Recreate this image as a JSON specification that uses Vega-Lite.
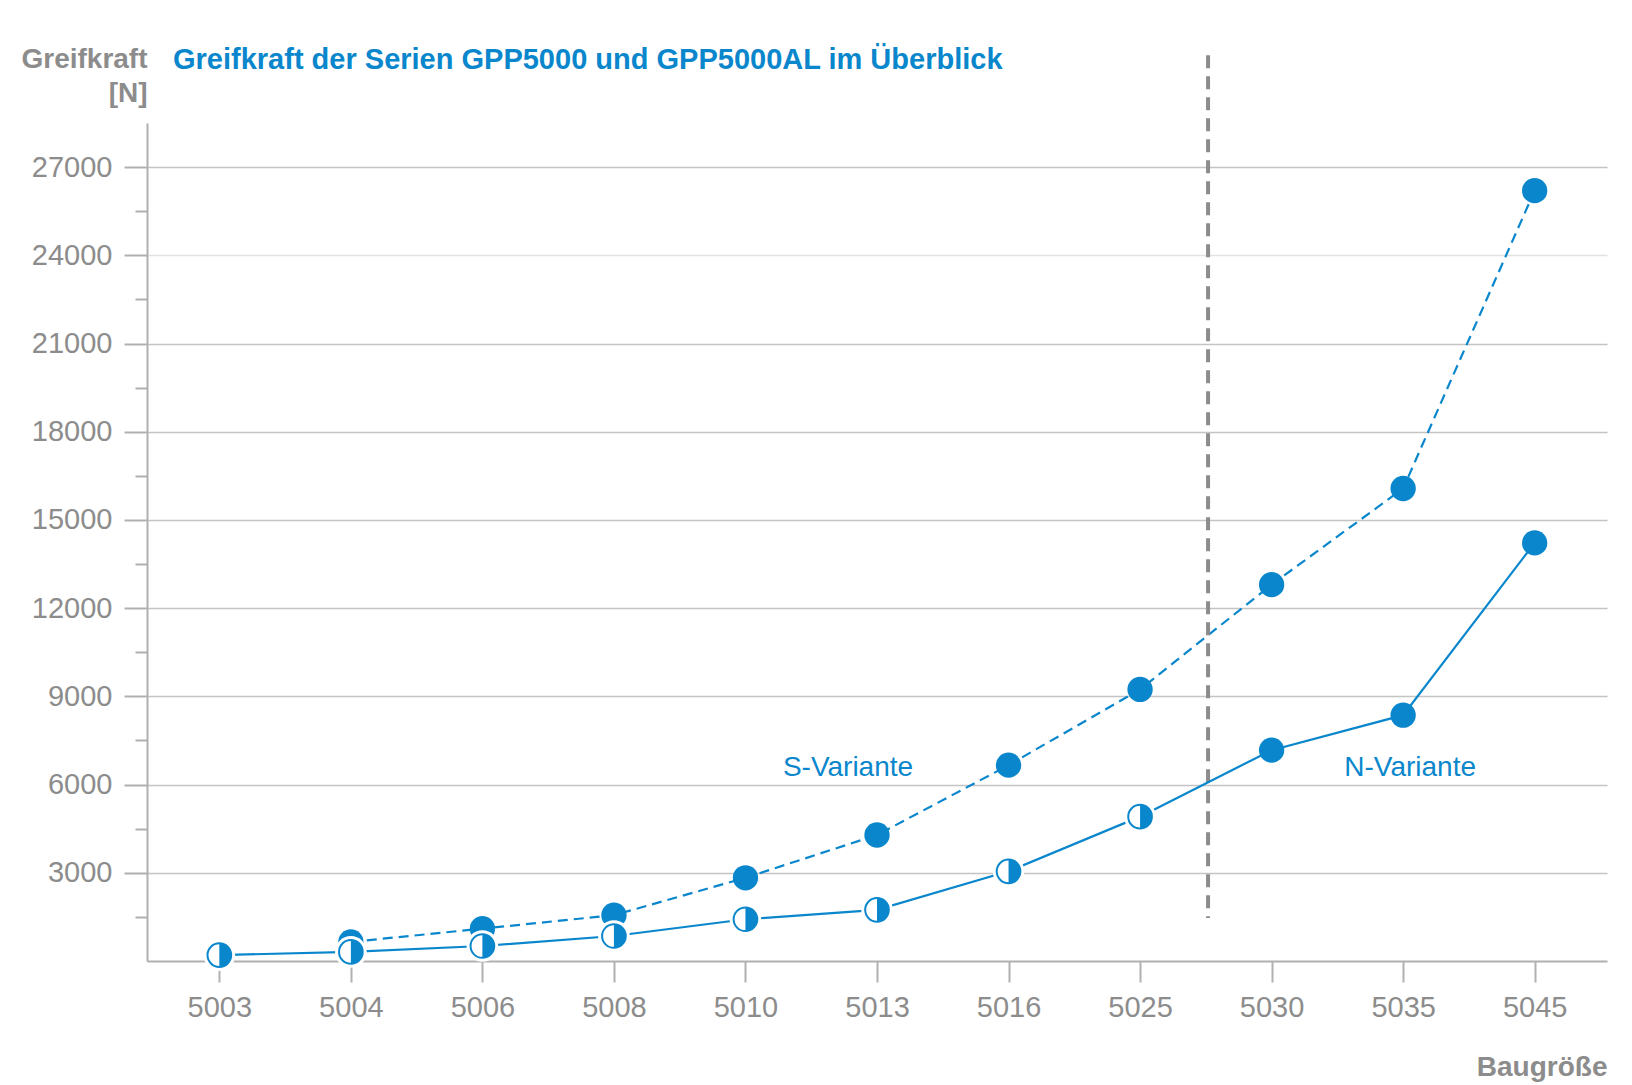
{
  "$schema": "https://vega.github.io/schema/vega-lite/v6.json",
  "width": 1460,
  "height": 838,
  "autosize": {"type": "none"},
  "padding": {"left": 147, "top": 123, "right": 25, "bottom": 124},
  "background": "white",
  "config": {
    "view": {"stroke": null},
    "font": "Liberation Sans"
  },
  "title": {
    "text": "Greifkraft der Serien GPP5000 und GPP5000AL im Überblick",
    "anchor": "start",
    "frame": "group",
    "dx": 26,
    "offset": -53,
    "baseline": "alphabetic",
    "font": "Liberation Sans",
    "fontSize": 29,
    "fontWeight": "bold",
    "color": "#0a87cc"
  },
  "data": {
    "values": [
      {"Baugröße": "5003", "Variante": "N-Variante", "Greifkraft": 200, "Symbol": "halb"},
      {"Baugröße": "5004", "Variante": "N-Variante", "Greifkraft": 310, "Symbol": "halb"},
      {"Baugröße": "5006", "Variante": "N-Variante", "Greifkraft": 510, "Symbol": "halb"},
      {"Baugröße": "5008", "Variante": "N-Variante", "Greifkraft": 850, "Symbol": "halb"},
      {"Baugröße": "5010", "Variante": "N-Variante", "Greifkraft": 1420, "Symbol": "halb"},
      {"Baugröße": "5013", "Variante": "N-Variante", "Greifkraft": 1740, "Symbol": "halb"},
      {"Baugröße": "5016", "Variante": "N-Variante", "Greifkraft": 3050, "Symbol": "halb"},
      {"Baugröße": "5025", "Variante": "N-Variante", "Greifkraft": 4910, "Symbol": "halb"},
      {"Baugröße": "5030", "Variante": "N-Variante", "Greifkraft": 7170, "Symbol": "voll"},
      {"Baugröße": "5035", "Variante": "N-Variante", "Greifkraft": 8360, "Symbol": "voll"},
      {"Baugröße": "5045", "Variante": "N-Variante", "Greifkraft": 14220, "Symbol": "voll"},
      {"Baugröße": "5004", "Variante": "S-Variante", "Greifkraft": 650, "Symbol": "voll"},
      {"Baugröße": "5006", "Variante": "S-Variante", "Greifkraft": 1100, "Symbol": "voll"},
      {"Baugröße": "5008", "Variante": "S-Variante", "Greifkraft": 1560, "Symbol": "voll"},
      {"Baugröße": "5010", "Variante": "S-Variante", "Greifkraft": 2830, "Symbol": "voll"},
      {"Baugröße": "5013", "Variante": "S-Variante", "Greifkraft": 4285, "Symbol": "voll"},
      {"Baugröße": "5016", "Variante": "S-Variante", "Greifkraft": 6660, "Symbol": "voll"},
      {"Baugröße": "5025", "Variante": "S-Variante", "Greifkraft": 9235, "Symbol": "voll"},
      {"Baugröße": "5030", "Variante": "S-Variante", "Greifkraft": 12800, "Symbol": "voll"},
      {"Baugröße": "5035", "Variante": "S-Variante", "Greifkraft": 16070, "Symbol": "voll"},
      {"Baugröße": "5045", "Variante": "S-Variante", "Greifkraft": 26200, "Symbol": "voll"}
    ]
  },
  "layer": [
    {
      "transform": [{"filter": "datum.Variante === 'S-Variante'"}],
      "mark": {"type": "line", "color": "#0a87cc", "strokeWidth": 2.2, "strokeDash": [10, 6]},
      "encoding": {
        "x": {
          "field": "Baugröße",
          "type": "ordinal",
          "scale": {
            "type": "point",
            "padding": 0.55,
            "domain": ["5003", "5004", "5006", "5008", "5010", "5013", "5016", "5025", "5030", "5035", "5045"]
          },
          "axis": {
            "title": "Baugröße",
            "titleFont": "Liberation Sans",
            "titleFontSize": 28,
            "titleFontWeight": "bold",
            "titleColor": "#8c8c8c",
            "titleAlign": "right",
            "titleAnchor": "end",
            "titleX": 1460,
            "titleY": 114,
            "titleBaseline": "alphabetic",
            "labelAngle": 0,
            "labelFont": "Liberation Sans",
            "labelFontSize": 29,
            "labelColor": "#8c8c8c",
            "labelPadding": 11,
            "tickSize": 21,
            "tickWidth": 2,
            "tickColor": "#b0b0b0",
            "domainColor": "#b0b0b0",
            "domainWidth": 2,
            "grid": false
          }
        },
        "y": {
          "field": "Greifkraft",
          "type": "quantitative",
          "scale": {"domain": [0, 28500], "nice": false, "zero": true},
          "axis": {
            "title": ["Greifkraft", "[N]"],
            "titleFont": "Liberation Sans",
            "titleFontSize": 28,
            "titleFontWeight": "bold",
            "titleColor": "#8c8c8c",
            "titleAngle": 0,
            "titleAlign": "right",
            "titleX": 0,
            "titleY": -56,
            "titleBaseline": "alphabetic",
            "titleLineHeight": 34,
            "values": [1500, 3000, 4500, 6000, 7500, 9000, 10500, 12000, 13500, 15000, 16500, 18000, 19500, 21000, 22500, 24000, 25500, 27000],
            "labelExpr": "datum.value % 3000 === 0 ? datum.value : ''",
            "format": "d",
            "labelFont": "Liberation Sans",
            "labelFontSize": 29,
            "labelColor": "#8c8c8c",
            "labelPadding": 12,
            "tickSize": {"condition": {"test": "datum.value % 3000 === 0", "value": 23}, "value": 12},
            "tickWidth": 2,
            "tickColor": "#b0b0b0",
            "domainColor": "#b0b0b0",
            "domainWidth": 2,
            "grid": true,
            "gridColor": {"condition": {"test": "datum.value === 24000", "value": "#e2e2e2"}, "value": "#c4c4c4"},
            "gridWidth": 1.5,
            "gridOpacity": {"condition": {"test": "datum.value % 3000 === 0", "value": 1}, "value": 0}
          }
        }
      }
    },
    {
      "data": {"values": [{"Grenze": "5025"}]},
      "mark": {"type": "rule", "color": "#8c8c8c", "strokeWidth": 4, "strokeDash": [13, 8], "xOffset": 68},
      "encoding": {
        "x": {"field": "Grenze", "type": "ordinal"},
        "y": {"datum": 30800},
        "y2": {"datum": 1460}
      }
    },
    {
      "transform": [{"filter": "datum.Variante === 'S-Variante'"}],
      "mark": {"type": "point", "shape": "circle", "filled": true, "color": "#0a87cc", "size": 640, "opacity": 1},
      "encoding": {
        "x": {"field": "Baugröße", "type": "ordinal"},
        "y": {"field": "Greifkraft", "type": "quantitative"}
      }
    },
    {
      "transform": [{"filter": "datum.Variante === 'N-Variante'"}],
      "mark": {"type": "line", "color": "#0a87cc", "strokeWidth": 2.2},
      "encoding": {
        "x": {"field": "Baugröße", "type": "ordinal"},
        "y": {"field": "Greifkraft", "type": "quantitative"}
      }
    },
    {
      "transform": [{"filter": "datum.Variante === 'N-Variante' && datum.Symbol === 'halb'"}],
      "mark": {"type": "point", "shape": "circle", "filled": true, "fill": "white", "size": 1000, "opacity": 1},
      "encoding": {
        "x": {"field": "Baugröße", "type": "ordinal"},
        "y": {"field": "Greifkraft", "type": "quantitative"}
      }
    },
    {
      "transform": [{"filter": "datum.Variante === 'N-Variante' && datum.Symbol === 'halb'"}],
      "mark": {"type": "point", "shape": "circle", "filled": false, "fill": "white", "fillOpacity": 1, "stroke": "#0a87cc", "strokeWidth": 2, "size": 560, "opacity": 1},
      "encoding": {
        "x": {"field": "Baugröße", "type": "ordinal"},
        "y": {"field": "Greifkraft", "type": "quantitative"}
      }
    },
    {
      "transform": [{"filter": "datum.Variante === 'N-Variante' && datum.Symbol === 'halb'"}],
      "mark": {"type": "point", "shape": "M0,-1A1,1,0,0,1,0,1Z", "filled": true, "color": "#0a87cc", "size": 560, "opacity": 1},
      "encoding": {
        "x": {"field": "Baugröße", "type": "ordinal"},
        "y": {"field": "Greifkraft", "type": "quantitative"}
      }
    },
    {
      "transform": [{"filter": "datum.Variante === 'N-Variante' && datum.Symbol === 'voll'"}],
      "mark": {"type": "point", "shape": "circle", "filled": true, "color": "#0a87cc", "size": 640, "opacity": 1},
      "encoding": {
        "x": {"field": "Baugröße", "type": "ordinal"},
        "y": {"field": "Greifkraft", "type": "quantitative"}
      }
    },
    {
      "data": {"values": [{"Beschriftung": "S-Variante", "Position": "5013"}]},
      "mark": {"type": "text", "font": "Liberation Sans", "fontSize": 28, "color": "#0a87cc", "align": "center", "baseline": "middle", "dx": -29},
      "encoding": {
        "x": {"field": "Position", "type": "ordinal"},
        "y": {"datum": 6560},
        "text": {"field": "Beschriftung"}
      }
    },
    {
      "data": {"values": [{"Beschriftung": "N-Variante", "Position": "5035"}]},
      "mark": {"type": "text", "font": "Liberation Sans", "fontSize": 28, "color": "#0a87cc", "align": "center", "baseline": "middle", "dx": 7},
      "encoding": {
        "x": {"field": "Position", "type": "ordinal"},
        "y": {"datum": 6560},
        "text": {"field": "Beschriftung"}
      }
    }
  ]
}
